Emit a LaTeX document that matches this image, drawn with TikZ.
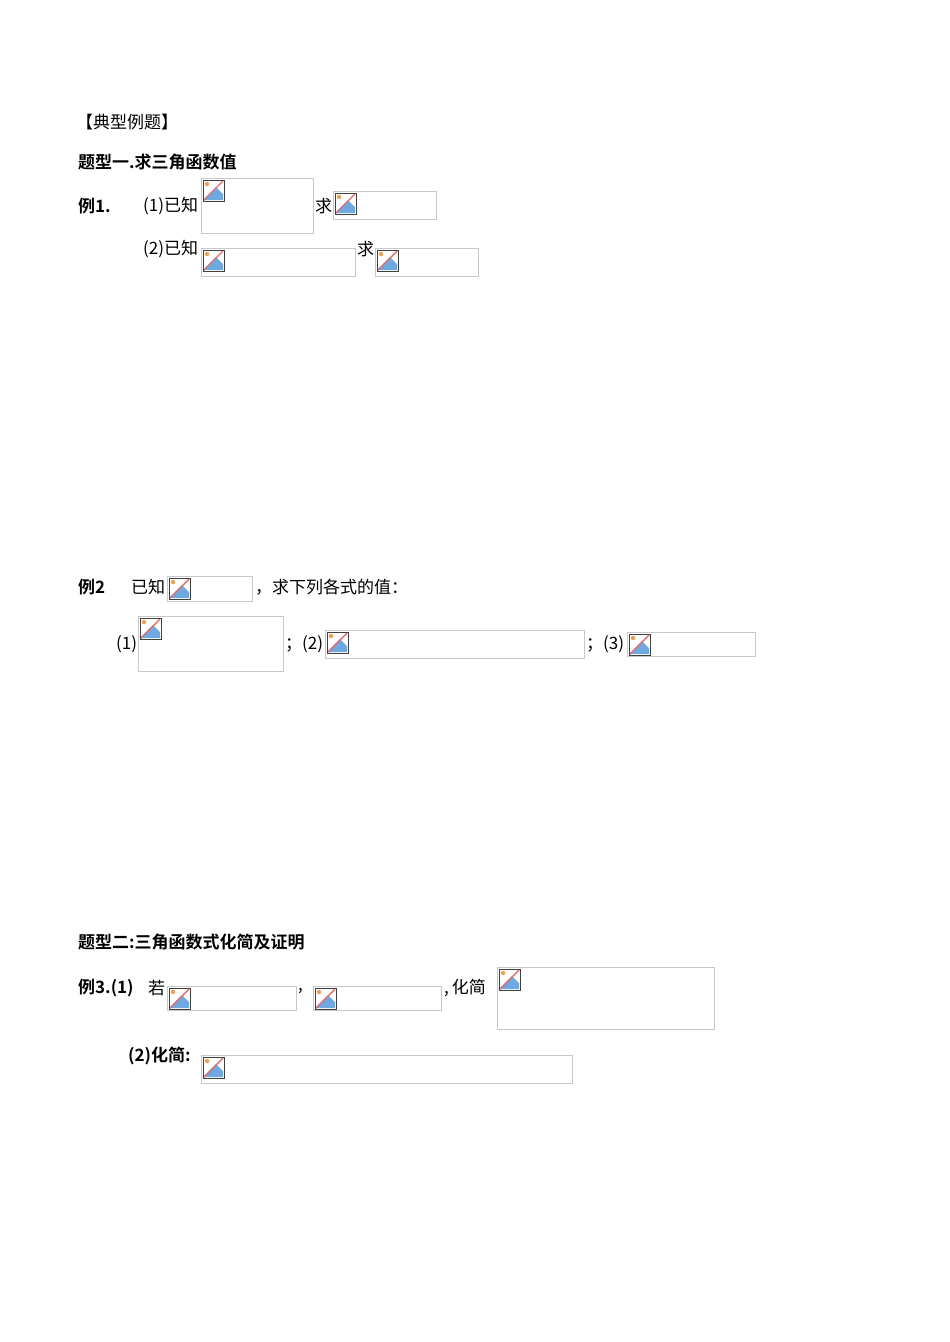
\documentclass[tikz,border=0pt]{standalone}
\usepackage{fontspec}
\setmainfont{Liberation Serif}
\newfontfamily\cjk{Noto Sans CJK SC}
\newfontfamily\cjkb{Noto Sans CJK SC Bold}
\definecolor{boxg}{RGB}{200,200,200}
\definecolor{skyb}{RGB}{110,170,225}
\definecolor{sunor}{RGB}{240,160,80}
\definecolor{slash}{RGB}{225,110,110}
\tikzset{
  txt/.style={anchor=west,inner sep=0pt,font=\fontsize{17}{17}\selectfont\cjk},
  hd/.style={anchor=west,inner sep=0pt,font=\fontsize{17}{17}\selectfont\cjkb},
  phbox/.style={draw=boxg,line width=0.8pt}
}
\newcommand{\myph}[5]{% name x y w h (top-left, pixels)
  \node[phbox,inner sep=0pt,minimum width=#4,minimum height=#5,anchor=north west] (#1) at (#2,#3) {};
  \begin{scope}[shift={(#2+1,#3+1)}]
    \fill[skyb] (2,20) -- (14,8) -- (21,15) -- (21,21) -- (2,21) -- cycle;
    \fill[sunor] (5,5) circle (2.2);
    \draw[slash,line width=1.4pt] (2,21) -- (21,2);
    \draw[black!75,line width=1pt] (1,1) rectangle (22,22);
  \end{scope}
}
\begin{document}
\begin{tikzpicture}[x=1pt,y=-1pt]
\useasboundingbox[fill=white] (0,0) rectangle (950,1342);
\node[txt] (t0) at (76,122) {【典型例题】};
\node[hd] (h1) at (78,162) {题型一.求三角函数值};
\node[hd] (e1) at (78,206) {例1.};
\node[txt] (e1a) at (143,206) {(1)已知};
\myph{b1}{201}{178}{112}{55}
\node[txt] (q1) at (315,206) {求};
\myph{b2}{333}{191}{103}{28}
\node[txt] (e1b) at (143,249) {(2)已知};
\myph{b3}{201}{248}{154}{28}
\node[txt] (q2) at (357,249) {求};
\myph{b4}{375}{248}{103}{28}

\node[hd] (e2) at (78,587) {例2};
\node[txt] (e2a) at (131,587) {已知};
\myph{b5}{167}{576}{85}{25}
\node[txt] (e2b) at (255,587) {，求下列各式的值：};
\node[txt] (p1) at (116,644) {(1)};
\myph{b6}{138}{616}{145}{55}
\node[txt] (p2) at (285,644) {；(2)};
\myph{b7}{325}{630}{259}{28}
\node[txt] (p3) at (586,644) {；(3)};
\myph{b8}{627}{632}{128}{24}

\node[hd] (h2) at (78,942) {题型二:三角函数式化简及证明};
\node[hd] (e3) at (78,988) {例3.(1)};
\node[txt] (e3a) at (148,988) {若};
\myph{b9}{167}{986}{129}{24}
\node[txt] (c1) at (298,991) {,};
\myph{b10}{313}{986}{128}{24}
\node[txt] (c2) at (444,988) {,\,化简};
\myph{b11}{497}{967}{217}{62}
\node[hd] (e3b) at (128,1056) {(2)化简:};
\myph{b12}{201}{1055}{371}{28}
\end{tikzpicture}
\end{document}
